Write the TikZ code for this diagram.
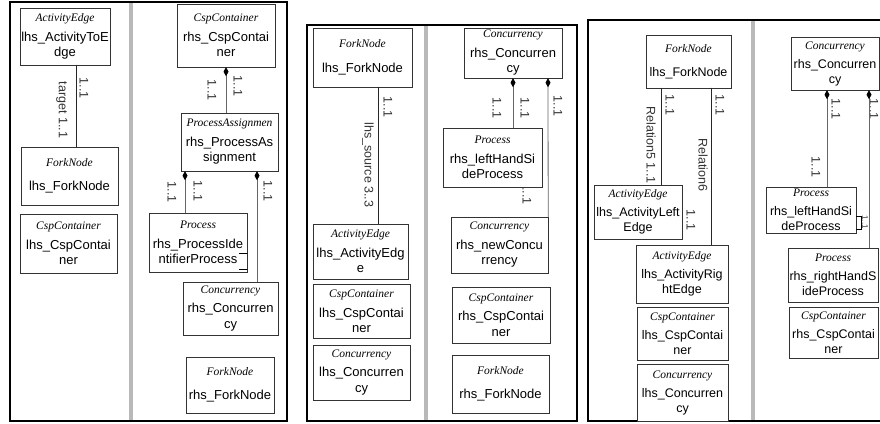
\documentclass[tikz,border=0pt]{standalone}
\usepackage{fontspec}
\setmainfont{Liberation Sans}
\newfontfamily\serfam{Liberation Serif}
\usetikzlibrary{arrows.meta}

\newcommand{\cls}[2][4pt]{{\serfam\itshape\fontsize{11.5}{13}\selectfont #2}\\[#1]}

\begin{document}
\begin{tikzpicture}[x=1pt,y=-1pt,line cap=round,
  box/.style={draw=black!80,fill=white,inner sep=1pt,align=center,font=\fontsize{13}{15.5}\selectfont},
  smallbox/.style={box,font=\fontsize{12.5}{15}\selectfont},
  lbl/.style={rotate=-90,inner sep=0pt,text=black!80,font=\fontsize{12.5}{14}\selectfont},
  lhsline/.style={draw=black!85,line width=.6pt},
  comp/.style={draw=black!60,line width=.8pt,{Diamond[length=9pt,width=5pt,color=black]}-},
  frame/.style={draw=black,line width=1.5pt,line cap=butt}]
  \useasboundingbox (0,0) rectangle (880,423);

  % frames and dividers
  \draw[frame] (10,2) rectangle (287,421);
  \fill[gray!55] (129,3) rectangle (133,420);
  \draw[frame] (307,25) rectangle (577,421);
  \fill[gray!55] (424,26) rectangle (428,420);
  \draw[frame] (886,20) -- (588,20) -- (588,421) -- (886,421);
  \fill[gray!55] (751,21) rectangle (755,420);

  % multiplicities and roles
  \node[lbl] (m1) at (84,88) {1..1};
  \node[lbl] (m2) at (62,110) {target 1..1};
  \node[lbl] (m3) at (212,90) {1..1};
  \node[lbl] (m4) at (238,86) {1..1};
  \node[lbl] (m5) at (172,192) {1..1};
  \node[lbl] (m6) at (198,191) {1..1};
  \node[lbl] (m7) at (268,191) {1..1};
  \node[lbl] (m8) at (388,107) {1..1};
  \node[lbl] (m9) at (368,165) {lhs\_source 3..3};
  \node[lbl] (m10) at (497,108) {1..1};
  \node[lbl] (m11) at (525,108) {1..1};
  \node[lbl] (m12) at (558,106) {1..1};
  \node[lbl] (m13) at (527,194) {1..1};
  \node[lbl] (m14) at (670,105) {1..1};
  \node[lbl] (m15) at (651,145) {Relation5 1..1};
  \node[lbl] (m16) at (720,105) {1..1};
  \node[lbl] (m17) at (703,165) {Relation6};
  \node[lbl] (m18) at (691,220) {1..1};
  \node[lbl] (m19) at (836,109) {1..1};
  \node[lbl] (m20) at (816,167) {1..1};
  \node[lbl] (m21) at (874,109) {1..1};
  \node[lbl,font=\fontsize{8}{9}\selectfont] (m22) at (865,222) {1..1};

  % first rule
  \node[box,minimum width=90,minimum height=57] (lEdge1) at (65,36.5) {\cls{ActivityEdge}lhs\_ActivityToE\\dge};
  \node[box,minimum width=97,minimum height=58] (lFork1) at (69.5,176) {\cls[9pt]{ForkNode}lhs\_ForkNode};
  \node[box,minimum width=97,minimum height=59] (lCsp1) at (68.5,243.5) {\cls{CspContainer}lhs\_CspContai\\ner};
  \node[box,minimum width=98,minimum height=63] (rCsp1) at (226,35.5) {\cls{CspContainer}rhs\_CspContai\\ner};
  \node[box,minimum width=97,minimum height=58] (rAssign1) at (229.5,142) {\cls{ProcessAssignmen}rhs\_ProcessAs\\signment};
  \node[box,minimum width=98,minimum height=59] (rProc1) at (198,242.5) {\cls{Process}rhs\_ProcessIde\\ntifierProcess};
  \node[box,minimum width=95,minimum height=53] (rConc1) at (230.5,308.5) {\cls{Concurrency}rhs\_Concurren\\cy};
  \node[box,minimum width=88,minimum height=56] (rFork1) at (230,385) {\cls[9pt]{ForkNode}rhs\_ForkNode};

  \draw[lhsline] ([xshift=11]lEdge1.south) -- ([xshift=6.5]lFork1.north);
  \draw[comp] (rCsp1.south) -- ([xshift=-3.5]rAssign1.north);
  \draw[comp] ([xshift=-44.5]rAssign1.south) -- ([xshift=-13]rProc1.north);
  \draw[comp] ([xshift=27.5]rAssign1.south) -- ([xshift=26.5]rConc1.north);
  \draw[thin] ([yshift=-40]rProc1.north east) -- ++(-8,0) ([yshift=-56]rProc1.north east) -- ++(-8,0);

  % second rule
  \node[box,minimum width=99,minimum height=59] (lFork2) at (362.5,57.5) {\cls[9pt]{ForkNode}lhs\_ForkNode};
  \node[box,minimum width=95,minimum height=55] (lEdge2) at (360.5,251.5) {\cls{ActivityEdge}lhs\_ActivityEdg\\e};
  \node[box,minimum width=97,minimum height=54] (lCsp2) at (361.5,311.5) {\cls{CspContainer}lhs\_CspContai\\ner};
  \node[box,minimum width=97,minimum height=55] (lConc2) at (361.5,372.5) {\cls{Concurrency}lhs\_Concurren\\cy};
  \node[box,minimum width=98,minimum height=50] (rConc2) at (513,53) {\cls{Concurrency}rhs\_Concurren\\cy};
  \node[box,minimum width=99,minimum height=59] (rProc2) at (492.5,157.5) {\cls{Process}rhs\_leftHandSi\\deProcess};
  \node[box,minimum width=97,minimum height=56] (rNewConc2) at (499.5,245) {\cls{Concurrency}rhs\_newConcu\\rrency};
  \node[box,minimum width=98,minimum height=56] (rCsp2) at (501,315) {\cls{CspContainer}rhs\_CspContai\\ner};
  \node[box,minimum width=97,minimum height=58] (rFork2) at (500.5,384) {\cls[9pt]{ForkNode}rhs\_ForkNode};

  \draw[lhsline] ([xshift=15.5]lFork2.south) -- ([xshift=17.5]lEdge2.north);
  \draw[comp] (rConc2.south) -- ([xshift=20.5]rProc2.north);
  \draw[comp] ([xshift=35]rConc2.south) -- (rNewConc2.north east);

  % third rule
  \node[smallbox,minimum width=85,minimum height=53] (lFork3) at (688.5,61.5) {\cls[9pt]{ForkNode}lhs\_ForkNode};
  \node[smallbox,minimum width=88,minimum height=54] (lLeft3) at (638,212) {\cls{ActivityEdge}lhs\_ActivityLeft\\Edge};
  \node[smallbox,minimum width=92,minimum height=58] (lRight3) at (682,274) {\cls{ActivityEdge}lhs\_ActivityRig\\htEdge};
  \node[smallbox,minimum width=91,minimum height=53] (lCsp3) at (682.5,333.5) {\cls{CspContainer}lhs\_CspContai\\ner};
  \node[smallbox,minimum width=91,minimum height=57] (lConc3) at (682.5,392.5) {\cls{Concurrency}lhs\_Concurren\\cy};
  \node[smallbox,minimum width=88,minimum height=53] (rConc3) at (835,63.5) {\cls{Concurrency}rhs\_Concurren\\cy};
  \node[smallbox,minimum width=90,minimum height=46] (rLeft3) at (811,210) {\cls{Process}rhs\_leftHandSi\\deProcess};
  \node[smallbox,minimum width=90,minimum height=54] (rRight3) at (833,275) {\cls{Process}rhs\_rightHandS\\ideProcess};
  \node[smallbox,minimum width=89,minimum height=51] (rCsp3) at (833.5,332.5) {\cls{CspContainer}rhs\_CspContai\\ner};

  \draw[lhsline] ([xshift=-27.5]lFork3.south) -- ([xshift=23]lLeft3.north);
  \draw[lhsline] ([xshift=22.5]lFork3.south) -- ([xshift=29]lRight3.north);
  \draw[comp] ([xshift=-8]rConc3.south) -- ([xshift=16]rLeft3.north);
  \draw[comp] ([xshift=34]rConc3.south) -- ([xshift=36]rRight3.north);
  \draw[thin] ([yshift=-6]rLeft3.east) -- ++(5,0) -- ++(0,13) -- ++(-5,0);
\end{tikzpicture}
\end{document}
